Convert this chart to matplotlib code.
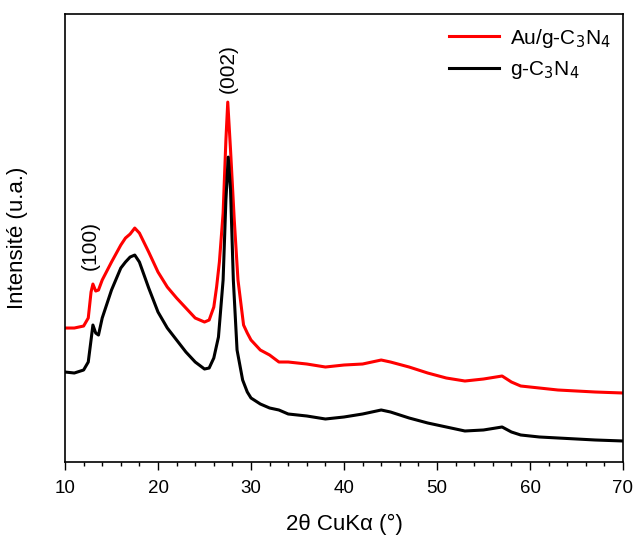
import matplotlib.pyplot as plt
from matplotlib.ticker import MultipleLocator

plt.rcParams['font.family'] = ['Liberation Sans', 'DejaVu Sans']

# g-C3N4 (black)
x_g = [10, 11, 12, 12.5, 12.8, 13.0, 13.3, 13.6, 14, 15, 16, 16.5, 17, 17.5, 18, 19, 20,
       21, 22, 23, 24, 25, 25.5, 26, 26.5, 27.0, 27.3, 27.55, 27.8, 28.1, 28.5, 29.1,
       29.6, 30, 31, 32, 33, 34, 36, 38, 40, 42, 44, 45, 47, 49, 51, 53, 55, 57, 58,
       59, 61, 63, 65, 67, 70]
y_g = [90, 89, 92, 100, 122, 137, 129, 127, 144, 172, 194, 200, 205, 207, 200, 174, 150,
       134, 122, 110, 100, 93, 94, 104, 125, 182, 262, 305, 272, 182, 112, 82,
       70, 64, 58, 54, 52, 48, 46, 43, 45, 48, 52, 50, 44, 39, 35, 31, 32, 35, 30,
       27, 25, 24, 23, 22, 21]

# Au/g-C3N4 (red)
x_au = [10, 11, 12, 12.5, 12.8, 13.0, 13.3, 13.6, 14, 15, 16, 16.5, 17, 17.5, 18, 19, 20,
        21, 22, 23, 24, 25, 25.5, 26, 26.3, 26.6, 27.0, 27.3, 27.5, 27.8, 28.2, 28.6,
        29.2, 29.6, 30, 31, 32, 33, 34, 36, 38, 40, 42, 44, 45, 47, 49, 51, 53, 55,
        57, 58, 59, 61, 63, 65, 67, 70]
y_au = [134, 134, 136, 144, 170, 178, 171, 172, 182, 200, 217, 224, 228, 234, 229, 210, 190,
        175, 164, 154, 144, 140, 142, 155, 175, 200, 249, 322, 360, 312, 242, 182,
        137, 129, 122, 112, 107, 100, 100, 98, 95, 97, 98, 102, 100, 95, 89, 84, 81, 83,
        86, 80, 76, 74, 72, 71, 70, 69]

fig = plt.figure(figsize=(6.33, 5.37), dpi=100)
ax = fig.add_axes([0.1027, 0.1397, 0.8815, 0.834])

ax.plot(x_au, y_au, color='red', lw=2.2, label='Au/g-C$_3$N$_4$')
ax.plot(x_g, y_g, color='black', lw=2.2, label='g-C$_3$N$_4$')

ax.set_xlim(10, 70)
ax.set_ylim(0, 448)
ax.set_yticks([])
ax.xaxis.set_major_locator(MultipleLocator(10))
ax.xaxis.set_minor_locator(MultipleLocator(2))
ax.tick_params(axis='x', which='major', direction='out', length=6, width=1,
               labelsize=13.5, pad=7)
ax.tick_params(axis='x', which='minor', direction='out', length=3, width=1)
for s in ax.spines.values():
    s.set_linewidth(1.2)

ax.set_xlabel('2\u03b8 CuK\u03b1 (\u00b0)', fontsize=16, labelpad=12)
ax.set_ylabel('Intensit\u00e9 (u.a.)', fontsize=16, labelpad=27)

ax.text(12.7, 217, '(100)', rotation=90, ha='center', va='center', fontsize=15)
ax.text(27.5, 394, '(002)', rotation=90, ha='center', va='center', fontsize=15)

ax.legend(loc='upper right', frameon=False, fontsize=15, handlelength=2.4,
          handletextpad=0.5, borderaxespad=0.2, labelspacing=0.45)

plt.savefig('out.png', dpi=100)
